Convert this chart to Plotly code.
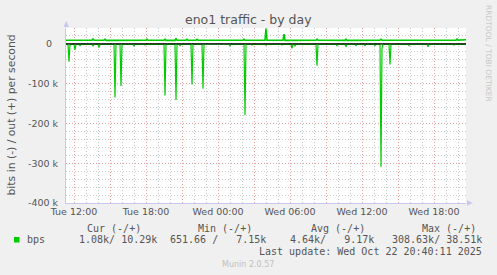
import plotly.graph_objects as go
from datetime import datetime, timedelta

# ---------------- data ----------------
start_time = "2025-10-21 11:20"
end_time = "2025-10-22 20:40"

# baseline samples (hourly), bits/s
base_times = ["2025-10-21 11:20", "2025-10-21 12:00", "2025-10-21 13:00", "2025-10-21 14:00",
              "2025-10-21 15:00", "2025-10-21 16:00", "2025-10-21 17:00", "2025-10-21 18:00",
              "2025-10-21 19:00", "2025-10-21 20:00", "2025-10-21 21:00", "2025-10-21 22:00",
              "2025-10-21 23:00", "2025-10-22 00:00", "2025-10-22 01:00", "2025-10-22 02:00",
              "2025-10-22 03:00", "2025-10-22 04:00", "2025-10-22 05:00", "2025-10-22 06:00",
              "2025-10-22 07:00", "2025-10-22 08:00", "2025-10-22 09:00", "2025-10-22 10:00",
              "2025-10-22 11:00", "2025-10-22 12:00", "2025-10-22 13:00", "2025-10-22 14:00",
              "2025-10-22 15:00", "2025-10-22 16:00", "2025-10-22 17:00", "2025-10-22 18:00",
              "2025-10-22 19:00", "2025-10-22 20:00", "2025-10-22 20:40"]
out_base = [9200, 9400, 9100, 9300, 9000, 9200, 9100, 9300, 9200, 9000, 9100, 9300,
            9200, 9100, 9000, 9200, 9300, 9100, 9200, 9000, 9100, 9300, 9200, 9100,
            9000, 9200, 9100, 9300, 9200, 9100, 9000, 9200, 9300, 9400, 10290]
in_base = [-1200, -1100, -1000, -1200, -1100, -1000, -1200, -1100, -1000, -1100, -1200, -1000,
           -900, -800, -900, -1000, -1100, -900, -1000, -1100, -1000, -1200, -1100, -1000,
           -1100, -1200, -1000, -1100, -1000, -900, -1000, -1100, -1000, -1100, -1080]

# spikes of the "in" direction (drawn negative)
in_spike_times = ["2025-10-21 11:35", "2025-10-21 12:05", "2025-10-21 12:30", "2025-10-21 13:35",
                  "2025-10-21 14:05", "2025-10-21 15:25", "2025-10-21 15:55", "2025-10-21 17:00",
                  "2025-10-21 17:55", "2025-10-21 19:35", "2025-10-21 20:30", "2025-10-21 20:50",
                  "2025-10-21 21:50", "2025-10-21 22:45", "2025-10-22 01:00", "2025-10-22 02:15",
                  "2025-10-22 02:50", "2025-10-22 04:00", "2025-10-22 05:20", "2025-10-22 06:10",
                  "2025-10-22 06:25", "2025-10-22 08:15", "2025-10-22 09:55", "2025-10-22 10:40",
                  "2025-10-22 11:30", "2025-10-22 12:15", "2025-10-22 13:05", "2025-10-22 13:35",
                  "2025-10-22 13:40", "2025-10-22 14:20", "2025-10-22 15:55", "2025-10-22 17:30",
                  "2025-10-22 19:40", "2025-10-22 20:15"]
in_spike_vals = [-45000, -15000, -4000, -5000, -9000, -135000, -106000, -5000,
                 -3000, -130000, -141000, -4000, -102000, -113000, -5000, -179000,
                 -3000, -3000, -3000, -11000, -5000, -55000, -4000, -7000,
                 -4000, -4000, -4000, -308630, -11000, -52000, -4000, -7000,
                 -3000, -3000]

# spikes of the "out" direction (drawn positive)
out_spike_times = ["2025-10-21 13:35", "2025-10-21 14:35", "2025-10-21 18:05", "2025-10-21 19:35",
                   "2025-10-21 20:30", "2025-10-21 21:25", "2025-10-21 22:15", "2025-10-22 02:10",
                   "2025-10-22 04:00", "2025-10-22 05:30", "2025-10-22 08:15", "2025-10-22 10:40",
                   "2025-10-22 13:35", "2025-10-22 19:55"]
out_spike_vals = [12600, 12000, 12000, 12000, 14000, 12000, 11500, 12000,
                  38510, 24500, 12000, 12000, 12000, 12500]

title_text = "eno1 traffic - by day"
y_title = "bits in (-) / out (+) per second"
y_tick_vals = [0, -100000, -200000, -300000, -400000]
y_tick_text = ["0\u2007", "-100 k", "-200 k", "-300 k", "-400 k"]
x_label_times = ["2025-10-21 12:00", "2025-10-21 15:00", "2025-10-21 18:00", "2025-10-21 21:00",
                 "2025-10-22 00:00", "2025-10-22 03:00", "2025-10-22 06:00", "2025-10-22 09:00",
                 "2025-10-22 12:00", "2025-10-22 15:00", "2025-10-22 18:00"]
x_label_text = ["Tue 12:00", "", "Tue 18:00", "", "Wed 00:00", "", "Wed 06:00", "",
                "Wed 12:00", "", "Wed 18:00"]

legend_headers = ["Cur (-/+)", "Min (-/+)", "Avg (-/+)", "Max (-/+)"]
legend_values = ["1.08k/ 10.29k", "651.66 /   7.15k", "4.64k/   9.17k", "308.63k/ 38.51k"]
series_name = "bps"
last_update = "Last update: Wed Oct 22 20:40:11 2025"
munin_version = "Munin 2.0.57"
rrd_credit = "RRDTOOL / TOBI OETIKER"

# ---------------- build series ----------------
FMT = "%Y-%m-%d %H:%M"
STEP = timedelta(minutes=5)


def build(bt, bv, st, sv):
    bt_d = [datetime.strptime(t, FMT) for t in bt]
    spikes = {datetime.strptime(t, FMT): v for t, v in zip(st, sv)}

    def base_at(t):
        # value of the nearest baseline sample
        i = min(range(len(bt_d)), key=lambda k: abs((bt_d[k] - t).total_seconds()))
        return bv[i]

    pts = {}
    for t, v in zip(bt_d, bv):
        pts[t] = v
    for t in spikes:
        for s in (t - STEP, t + STEP):
            if s not in spikes:
                pts[s] = base_at(s)
    for t, v in spikes.items():
        pts[t] = v
    keys = sorted(pts)
    return keys, [pts[k] for k in keys]


out_x, out_y = build(base_times, out_base, out_spike_times, out_spike_vals)
in_x, in_y = build(base_times, in_base, in_spike_times, in_spike_vals)

# ---------------- figure ----------------
W, H = 497, 275
L, R, T, B = 66, 31, 28, 72
PW, PH = W - L - R, H - T - B

GREEN = "#00CC00"
TXT = "#555555"
FONT = "DejaVu Sans"
MONO = "DejaVu Sans Mono"


def px(xp):
    return (xp - L) / PW


def py(yp):
    return (H - B - yp) / PH


fig = go.Figure()
fig.add_trace(go.Scatter(x=out_x, y=out_y, mode="lines",
                         line=dict(color=GREEN, width=1.6), hoverinfo="skip", showlegend=False))
fig.add_trace(go.Scatter(x=in_x, y=in_y, mode="lines",
                         line=dict(color=GREEN, width=1.2), hoverinfo="skip", showlegend=False))

fig.update_layout(
    width=W, height=H,
    margin=dict(l=L, r=R, t=T, b=B, pad=0),
    paper_bgcolor="#F0F0F0", plot_bgcolor="#FFFFFF",
    font=dict(family=FONT, size=9.5, color=TXT),
    showlegend=False,
)

fig.update_xaxes(
    type="date", range=[start_time, end_time],
    tickvals=x_label_times, ticktext=x_label_text, ticks="",
    showgrid=True, gridcolor="#E8A0A0", griddash="1px,2px", gridwidth=1,
    minor=dict(dtick=3600000, tick0="2025-10-21 12:00", showgrid=True,
               gridcolor="#C8C8C8", griddash="1px,2px", gridwidth=1),
    showline=True, linecolor="#C8C8EE", linewidth=1,
    zeroline=False, tickfont=dict(size=9.5, color=TXT),
    fixedrange=True,
)
fig.update_yaxes(
    range=[-400000, 40000],
    tickvals=y_tick_vals, ticktext=y_tick_text, ticks="",
    ticklabelstandoff=5,
    showgrid=True, gridcolor="#E8A0A0", griddash="1px,2px", gridwidth=1,
    minor=dict(dtick=20000, tick0=0, showgrid=True,
               gridcolor="#C8C8C8", griddash="1px,2px", gridwidth=1),
    showline=True, linecolor="#C8C8EE", linewidth=1,
    zeroline=False, tickfont=dict(size=9.5, color=TXT),
    fixedrange=True,
)

shapes = []
# black zero rule drawn above the data
shapes.append(dict(type="line", xref="paper", yref="y", x0=0, x1=1, y0=0, y1=0,
                   line=dict(color="#000000", width=1.2), layer="above"))
# axis arrows
shapes.append(dict(type="path", xref="paper", yref="paper",
                   path=f"M {px(63.5)} {py(27)} L {px(69)} {py(27)} L {px(66.2)} {py(21)} Z",
                   fillcolor="#C8C8EE", line=dict(width=0)))
shapes.append(dict(type="path", xref="paper", yref="paper",
                   path=f"M {px(467)} {py(200.3)} L {px(467)} {py(205.8)} L {px(473)} {py(203)} Z",
                   fillcolor="#C8C8EE", line=dict(width=0)))
# legend colour box
shapes.append(dict(type="rect", xref="paper", yref="paper",
                   x0=px(14), x1=px(19.5), y0=py(242.5), y1=py(237),
                   fillcolor=GREEN, line=dict(width=0)))
fig.update_layout(shapes=shapes)

ann = []
ann.append(dict(text=title_text, x=px(248.5), y=py(19), xref="paper", yref="paper",
                showarrow=False, xanchor="center", yanchor="middle",
                font=dict(family=FONT, size=12.5, color=TXT)))
ann.append(dict(text=y_title, x=px(11), y=py(115.5), xref="paper", yref="paper",
                showarrow=False, textangle=-90, xanchor="center", yanchor="middle",
                font=dict(family=FONT, size=10.8, color=TXT)))
ann.append(dict(text=rrd_credit, x=px(488.5), y=py(53.5), xref="paper", yref="paper",
                showarrow=False, textangle=90, xanchor="center", yanchor="middle",
                font=dict(family=FONT, size=7.5, color="#C8C8C8")))

header_right = [142, 253, 365.5, 476.5]
value_right = [157.5, 267, 374.5, 483]
for h, xr in zip(legend_headers, header_right):
    ann.append(dict(text=h.replace(" ", "\u00a0"), x=px(xr), y=py(228), xref="paper", yref="paper",
                    showarrow=False, xanchor="right", yanchor="middle",
                    font=dict(family=MONO, size=10, color=TXT)))
for v, xr in zip(legend_values, value_right):
    ann.append(dict(text=v.replace(" ", "\u00a0"), x=px(xr), y=py(239.5), xref="paper", yref="paper",
                    showarrow=False, xanchor="right", yanchor="middle",
                    font=dict(family=MONO, size=10, color=TXT)))
ann.append(dict(text=series_name, x=px(26), y=py(239.5), xref="paper", yref="paper",
                showarrow=False, xanchor="left", yanchor="middle",
                font=dict(family=MONO, size=10, color=TXT)))
ann.append(dict(text=last_update.replace(" ", "\u00a0"), x=px(483), y=py(251), xref="paper", yref="paper",
                showarrow=False, xanchor="right", yanchor="middle",
                font=dict(family=MONO, size=10, color=TXT)))
ann.append(dict(text=munin_version, x=px(248), y=py(264), xref="paper", yref="paper",
                showarrow=False, xanchor="center", yanchor="middle",
                font=dict(family=FONT, size=8, color="#C0C0C0")))
for a in ann:
    a["borderpad"] = 0
fig.update_layout(annotations=ann)

fig.write_html("out.html")
